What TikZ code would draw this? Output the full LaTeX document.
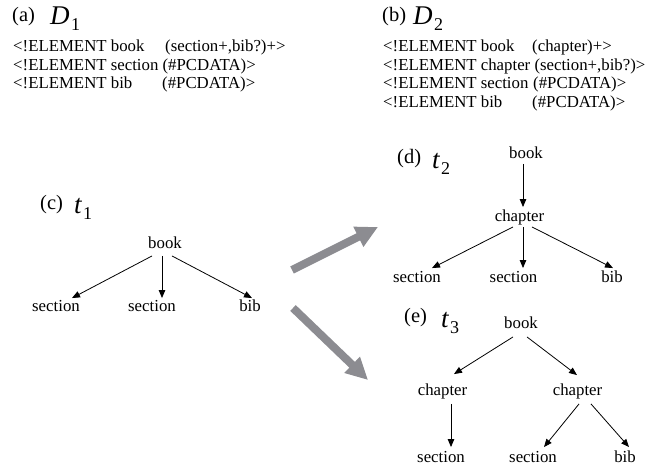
\documentclass[tikz,border=0pt]{standalone}
\usepackage{fontspec}
\setmainfont{Liberation Serif}
\usetikzlibrary{arrows.meta,calc}
\definecolor{morphgray}{RGB}{140,140,145}
% italic symbol with an upright, lowered index
\newcommand{\symlab}[2]{{\fontsize{27}{27}\selectfont\itshape #1}\kern1.5pt\raisebox{-6pt}{\fontsize{18}{18}\selectfont #2}}

\begin{document}
\begin{tikzpicture}[x=1pt,y=-1pt,
  lbl/.style={font=\fontsize{16.8}{20}\selectfont, inner sep=1pt, text height=12pt, text depth=3.5pt},
  dtd/.style={font=\fontsize{16.8}{20}\selectfont, inner sep=0pt, anchor=base west},
  tag/.style={font=\fontsize{20.5}{24}\selectfont, inner sep=0pt, anchor=base west},
  sym/.style={inner sep=0pt, anchor=base west},
  edge/.style={draw=black, line width=0.8pt, -{Triangle[length=8pt,width=6.5pt]}},
  morph/.style={draw=morphgray, line width=8pt, -{Triangle[length=22pt,width=21pt]}}]
\useasboundingbox (0,0) rectangle (652,465);

% (a) DTD D1
\node[tag] (ta) at (12,22) {(a)};
\node[sym] (da) at (50,25) {\symlab{D}{1}};
\node[dtd] (a1) at (13,52) {<!ELEMENT book};
\node[dtd] (a1c) at (165,52) {(section+,bib?)+>};
\node[dtd] (a2) at (13,70.5) {<!ELEMENT section (\#PCDATA)>};
\node[dtd] (a3) at (13,89) {<!ELEMENT bib};
\node[dtd] (a3c) at (162,89) {(\#PCDATA)>};

% (b) DTD D2
\node[tag] (tb) at (382,22) {(b)};
\node[sym] (db) at (413,25) {\symlab{D}{2}};
\node[dtd] (b1) at (383,52) {<!ELEMENT book};
\node[dtd] (b1c) at (532,52) {(chapter)+>};
\node[dtd] (b2) at (383,70.5) {<!ELEMENT chapter (section+,bib?)>};
\node[dtd] (b3) at (383,89) {<!ELEMENT section};
\node[dtd] (b3c) at (533,89) {(\#PCDATA)>};
\node[dtd] (b4) at (383,107.5) {<!ELEMENT bib};
\node[dtd] (b4c) at (532,107.5) {(\#PCDATA)>};

% (c) tree t1
\node[tag] (tc) at (40,209) {(c)};
\node[sym] (sc) at (74,213) {\symlab{t}{1}};
\node[lbl] (c-book) at (165,244) {book};
\node[lbl] (c-s1) at (56,307) {section};
\node[lbl] (c-s2) at (152,307) {section};
\node[lbl] (c-bib) at (250,307) {bib};
\draw[edge] ($(c-book.south)+(-13,3)$) -- ($(c-s1.north)+(16,0)$);
\draw[edge] ($(c-book.south)+(-3,3)$) -- ($(c-s2.north)+(10,0)$);
\draw[edge] ($(c-book.south)+(7,3)$) -- ($(c-bib.north)+(2,0)$);

% (d) tree t2
\node[tag] (td) at (397,164) {(d)};
\node[sym] (sd) at (432,168) {\symlab{t}{2}};
\node[lbl] (d-book) at (526,154) {book};
\node[lbl] (d-ch) at (519.5,217) {chapter};
\node[lbl] (d-s1) at (417,278) {section};
\node[lbl] (d-s2) at (513.5,278) {section};
\node[lbl] (d-bib) at (612,278) {bib};
\draw[edge] ($(d-book.south)+(-3,1)$) -- ($(d-ch.north)+(3.5,-1)$);
\draw[edge] ($(d-ch.south)+(-6.5,1)$) -- ($(d-s1.north)+(15,-1)$);
\draw[edge] ($(d-ch.south)+(3.5,1)$) -- ($(d-s2.north)+(9.5,-1)$);
\draw[edge] ($(d-ch.south)+(12.5,1)$) -- ($(d-bib.north)+(1,-1)$);

% (e) tree t3
\node[tag] (te) at (404,322) {(e)};
\node[sym] (se) at (441,327) {\symlab{t}{3}};
\node[lbl] (e-book) at (521,324) {book};
\node[lbl] (e-ch1) at (442.5,391) {chapter};
\node[lbl] (e-ch2) at (577.5,391) {chapter};
\node[lbl] (e-s1) at (441,458) {section};
\node[lbl] (e-s2) at (533,458) {section};
\node[lbl] (e-bib) at (625,458) {bib};
\draw[edge] ($(e-book.south)+(-8,4)$) -- ($(e-ch1.north)+(11.5,-8)$);
\draw[edge] ($(e-book.south)+(6,4)$) -- ($(e-ch2.north)+(-0.5,-7)$);
\draw[edge] ($(e-ch1.south)+(8.5,4)$) -- ($(e-s1.north)+(10,-2)$);
\draw[edge] ($(e-ch2.south)+(1.5,4)$) -- ($(e-s2.north)+(11,-2)$);
\draw[edge] ($(e-ch2.south)+(13.5,4)$) -- ($(e-bib.north)+(4,-2)$);

% derivation arrows from t1 to t2 and t3
\coordinate (up-from) at (292,270);
\coordinate (up-to) at (378,227);
\coordinate (dn-from) at (293,308);
\coordinate (dn-to) at (368,380);
\draw[morph] (up-from) -- (up-to);
\draw[morph] (dn-from) -- (dn-to);
\end{tikzpicture}
\end{document}
